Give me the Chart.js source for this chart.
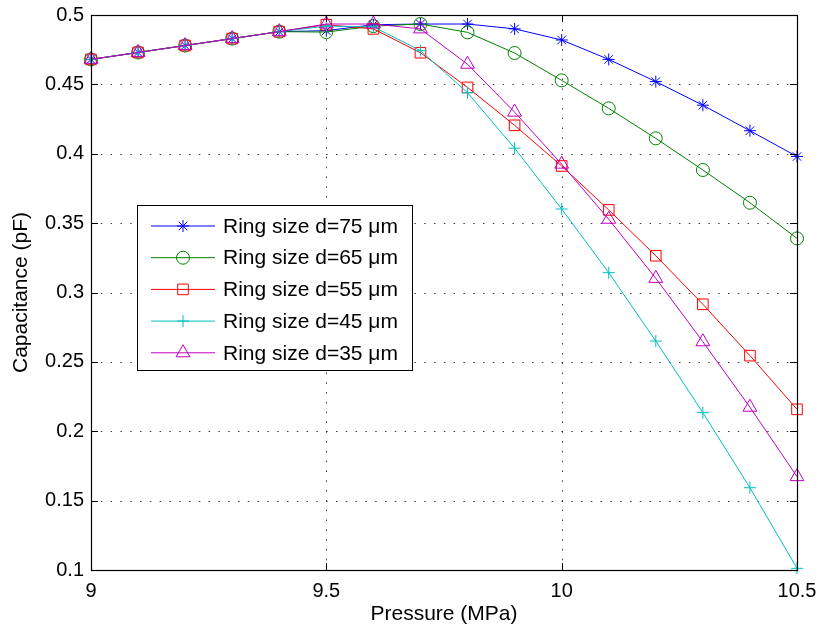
<!DOCTYPE html>
<html>
<head>
<meta charset="utf-8">
<script src="https://cdn.jsdelivr.net/npm/chart.js@4/dist/chart.umd.min.js"></script>
<style>
  html, body { margin: 0; padding: 0; background: #fff; }
  #wrap { width: 818px; height: 629px; }
</style>
</head>
<body>
<div id="wrap"><canvas id="cap-chart" width="818" height="629"></canvas></div>
<script>
// values
const pressure = [9.0, 9.1, 9.2, 9.3, 9.4, 9.5, 9.6, 9.7, 9.8, 9.9, 10.0, 10.1, 10.2, 10.3, 10.4, 10.5]
const d75 = [0.468, 0.473, 0.478, 0.483, 0.488, 0.4887, 0.493, 0.4935, 0.4935, 0.490, 0.482, 0.468, 0.452, 0.435, 0.4166, 0.398]
const d65 = [0.468, 0.473, 0.478, 0.483, 0.488, 0.4877, 0.492, 0.4935, 0.4875, 0.4726, 0.4529, 0.4327, 0.4111, 0.3883, 0.3647, 0.339]
const d55 = [0.468, 0.473, 0.478, 0.483, 0.488, 0.493, 0.490, 0.4728, 0.4478, 0.4205, 0.3912, 0.3595, 0.3265, 0.2915, 0.2545, 0.2158]
const d45 = [0.468, 0.473, 0.478, 0.483, 0.488, 0.492, 0.4915, 0.4743, 0.444, 0.404, 0.3602, 0.3143, 0.265, 0.2134, 0.1593, 0.1012]
const d35 = [0.468, 0.473, 0.478, 0.483, 0.488, 0.4935, 0.4935, 0.490, 0.4645, 0.430, 0.3925, 0.3528, 0.3102, 0.2645, 0.2173, 0.1673]

const seriesLabels = ['Ring size d=75 \u03bcm', 'Ring size d=65 \u03bcm', 'Ring size d=55 \u03bcm', 'Ring size d=45 \u03bcm', 'Ring size d=35 \u03bcm']
const seriesValues = [d75, d65, d55, d45, d35]
const seriesColors = ['#0000ff', '#008000', '#ff0000', '#00bfbf', '#bf00bf']
const seriesMarkers = ['star', 'circle', 'rect', 'cross', 'triangle']
const markerSizes = [6, 6.5, 7.5, 6, 8]

const xTicks = [9, 9.5, 10, 10.5]
const yTicks = [0.1, 0.15, 0.2, 0.25, 0.3, 0.35, 0.4, 0.45, 0.5]

const FONT = '"Liberation Sans", Arial, Helvetica, sans-serif'

function fmt(v) {
    return String(+v.toFixed(2))
}

// no extra room for overhanging tick labels, the plot box is fixed
function noOverhang(s) {
    s.paddingLeft = 0
    s.paddingRight = 0
    s.paddingTop = 0
    s.paddingBottom = 0
}

// box, inward ticks and dotted grid like the matlab axes
const axesBox = {
    id: 'axesBox',
    beforeDatasetsDraw(chart) {
        let ctx = chart.ctx
        let a = chart.chartArea
        let xs = chart.scales.x
        let ys = chart.scales.y
        ctx.save()
        ctx.strokeStyle = 'rgba(0,0,0,0.75)'
        ctx.lineWidth = 1
        ctx.setLineDash([1.5, 8.3])
        xTicks.forEach(v => {
            let px = Math.round(xs.getPixelForValue(v)) + 0.5
            ctx.beginPath()
            ctx.moveTo(px, a.bottom)
            ctx.lineTo(px, a.top)
            ctx.stroke()
        })
        yTicks.forEach(v => {
            let py = Math.round(ys.getPixelForValue(v)) + 0.5
            ctx.beginPath()
            ctx.moveTo(a.left, py)
            ctx.lineTo(a.right, py)
            ctx.stroke()
        })
        ctx.restore()
    },
    afterDraw(chart) {
        let ctx = chart.ctx
        let a = chart.chartArea
        let xs = chart.scales.x
        let ys = chart.scales.y
        ctx.save()
        ctx.strokeStyle = '#000'
        ctx.lineWidth = 1
        ctx.setLineDash([])
        let tl = 7
        ctx.beginPath()
        xTicks.forEach(v => {
            let px = Math.round(xs.getPixelForValue(v)) + 0.5
            ctx.moveTo(px, a.bottom); ctx.lineTo(px, a.bottom - tl)
            ctx.moveTo(px, a.top); ctx.lineTo(px, a.top + tl)
        })
        yTicks.forEach(v => {
            let py = Math.round(ys.getPixelForValue(v)) + 0.5
            ctx.moveTo(a.left, py); ctx.lineTo(a.left + tl, py)
            ctx.moveTo(a.right, py); ctx.lineTo(a.right - tl, py)
        })
        ctx.stroke()
        ctx.lineWidth = 1.2
        ctx.strokeRect(Math.round(a.left) + 0.5, Math.round(a.top) + 0.5, Math.round(a.right - a.left), Math.round(a.bottom - a.top))
        ctx.restore()
    }
}

// legend box inside the plot
const boxLegend = {
    id: 'boxLegend',
    afterDraw(chart) {
        let ctx = chart.ctx
        let bx = 137.5, by = 205.5, bw = 275, bh = 165
        ctx.save()
        ctx.fillStyle = '#fff'
        ctx.fillRect(bx, by, bw, bh)
        ctx.strokeStyle = '#000'
        ctx.lineWidth = 1
        ctx.strokeRect(bx, by, bw, bh)
        ctx.font = '21px ' + FONT
        ctx.textBaseline = 'middle'
        ctx.textAlign = 'left'
        seriesLabels.forEach((lab, i) => {
            let y = 226 + i * 31.7
            ctx.strokeStyle = seriesColors[i]
            ctx.lineWidth = 1
            ctx.beginPath()
            ctx.moveTo(151, y)
            ctx.lineTo(215, y)
            ctx.stroke()
            ctx.fillStyle = 'transparent'
            Chart.helpers.drawPoint(ctx, {
                pointStyle: seriesMarkers[i],
                radius: markerSizes[i],
                rotation: 0,
                borderWidth: 1
            }, 183, y)
            ctx.fillStyle = '#000'
            ctx.fillText(lab, 223, y + 1)
        })
        ctx.restore()
    }
}

function generateChart() {
    let chart = document.getElementById('cap-chart')
    let datasets = seriesValues.map((vals, i) => ({
        label: seriesLabels[i],
        data: pressure.map((p, k) => ({ x: p, y: vals[k] })),
        borderColor: seriesColors[i],
        backgroundColor: 'transparent',
        borderWidth: 1,
        pointStyle: seriesMarkers[i],
        pointRadius: markerSizes[i],
        pointHoverRadius: markerSizes[i],
        pointBorderColor: seriesColors[i],
        pointBackgroundColor: 'transparent',
        pointBorderWidth: 1,
        showLine: true,
        tension: 0,
        clip: false,
        order: seriesValues.length - i
    }))

    new Chart(chart, {
        type: 'scatter',
        data: { datasets: datasets },
        options: {
            responsive: false,
            animation: false,
            events: [],
            layout: { padding: { left: 0, right: 21, top: 15, bottom: 0 } },
            scales: {
                x: {
                    type: 'linear',
                    min: 9,
                    max: 10.5,
                    afterBuildTicks: s => { s.ticks = xTicks.map(v => ({ value: v })) },
                    afterFit: s => { s.height = 59; noOverhang(s) },
                    grid: { display: false, drawTicks: false },
                    border: { display: false },
                    ticks: {
                        color: '#000',
                        padding: 9,
                        font: { family: FONT, size: 20 },
                        callback: v => fmt(v)
                    },
                    title: {
                        display: true,
                        text: 'Pressure (MPa)',
                        color: '#000',
                        font: { family: FONT, size: 21 },
                        padding: { top: 0, bottom: 2 }
                    }
                },
                y: {
                    type: 'linear',
                    min: 0.1,
                    max: 0.5,
                    afterBuildTicks: s => { s.ticks = yTicks.map(v => ({ value: v })) },
                    afterFit: s => { s.width = 91; noOverhang(s) },
                    grid: { display: false, drawTicks: false },
                    border: { display: false },
                    ticks: {
                        color: '#000',
                        padding: 7,
                        font: { family: FONT, size: 20 },
                        callback: v => fmt(v)
                    },
                    title: {
                        display: true,
                        text: 'Capacitance (pF)',
                        color: '#000',
                        font: { family: FONT, size: 21 },
                        padding: { top: 9, bottom: 0 }
                    }
                }
            },
            plugins: {
                legend: { display: false },
                tooltip: { enabled: false }
            }
        },
        plugins: [axesBox, boxLegend]
    })
}

generateChart()
</script>
</body>
</html>
